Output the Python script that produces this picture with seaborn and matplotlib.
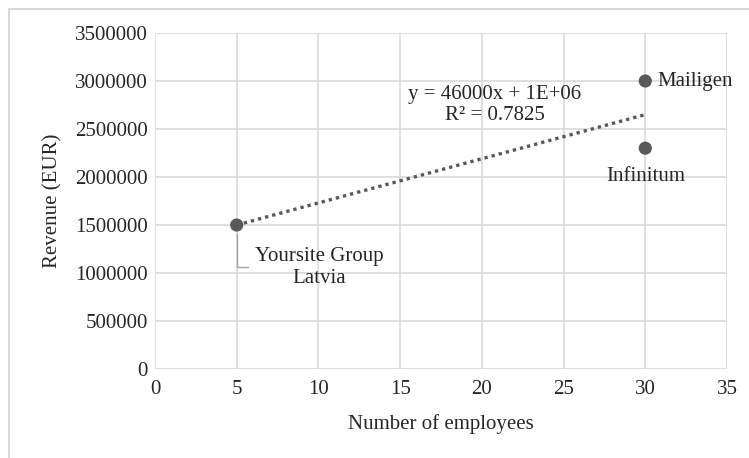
import numpy as np
import pandas as pd
import seaborn as sns
import matplotlib.pyplot as plt
from matplotlib.patches import Rectangle

# data
companies = ["Yoursite Group\nLatvia", "Mailigen", "Infinitum"]
employees = [5, 30, 30]
revenue = [1500000, 3000000, 2300000]

xticks = [0, 5, 10, 15, 20, 25, 30, 35]
yticks = [0, 500000, 1000000, 1500000, 2000000, 2500000, 3000000, 3500000]

df = pd.DataFrame({"company": companies, "employees": employees, "revenue": revenue})

sns.set_theme(style="white")
plt.rcParams["font.family"] = ["Liberation Serif", "DejaVu Serif"]

fs = 15
txt = "#262626"

fig = plt.figure(figsize=(7.49, 4.58), dpi=100)
ax = fig.add_axes([155 / 749, 1 - 369 / 458, 572 / 749, 336 / 458])

# outer chart frame like the Excel chart area
fig.patches.append(Rectangle((9 / 749, -0.1), 1.2, 1 - 9 / 458 + 0.1,
                             transform=fig.transFigure, fill=False,
                             edgecolor="#d9d9d9", linewidth=1.5))

# linear trendline
slope, intercept = np.polyfit(df["employees"], df["revenue"], 1)
fit = slope * df["employees"] + intercept
r2 = 1 - ((df["revenue"] - fit) ** 2).sum() / ((df["revenue"] - df["revenue"].mean()) ** 2).sum()
xs = np.array([df["employees"].min(), df["employees"].max()])
ax.plot(xs, slope * xs + intercept, linestyle=(0, (1, 1.2)), color="#595959", linewidth=2.4, zorder=2)

sns.scatterplot(data=df, x="employees", y="revenue", ax=ax, color="#595959",
                s=90, edgecolor="none", zorder=3, legend=False)

ax.set_xlim(0, 35)
ax.set_ylim(0, 3500000)
ax.set_xticks(xticks)
ax.set_yticks(yticks)
ax.set_xticklabels([str(t) for t in xticks])
ax.set_yticklabels([str(t) for t in yticks])
ax.grid(True, color="#d9d9d9", linewidth=1.2)
for s in ax.spines.values():
    s.set_visible(False)
ax.tick_params(axis="both", labelsize=fs, colors=txt, length=0, pad=5)
ax.tick_params(axis="x", pad=8)

ax.set_xlabel("Number of employees", fontsize=fs, color=txt, labelpad=11)
ax.set_ylabel("Revenue (EUR)", fontsize=fs, color=txt, labelpad=9)

# data labels
ax.text(6.1, 1060000, companies[0], fontsize=fs, color=txt, ha="left", va="center",
        multialignment="center", linespacing=1.2)
ax.plot([employees[0], employees[0], employees[0] + 0.7],
        [revenue[0] - 90000, revenue[0] - 440000, revenue[0] - 440000],
        color="#a6a6a6", linewidth=1, zorder=2)
ax.text(30.75, revenue[1], companies[1], fontsize=fs, color=txt, ha="left", va="center")
ax.text(30, revenue[2] - 290000, companies[2], fontsize=fs, color=txt, ha="center", va="center")

eq = f"y = {slope:.0f}x + {intercept:.0E}"
ax.text(20.8, 2750000, f"{eq}\nR\u00b2 = {r2:.4f}", fontsize=fs, color=txt,
        ha="center", va="center", linespacing=1.15)

fig.savefig("out.png", dpi=100)
